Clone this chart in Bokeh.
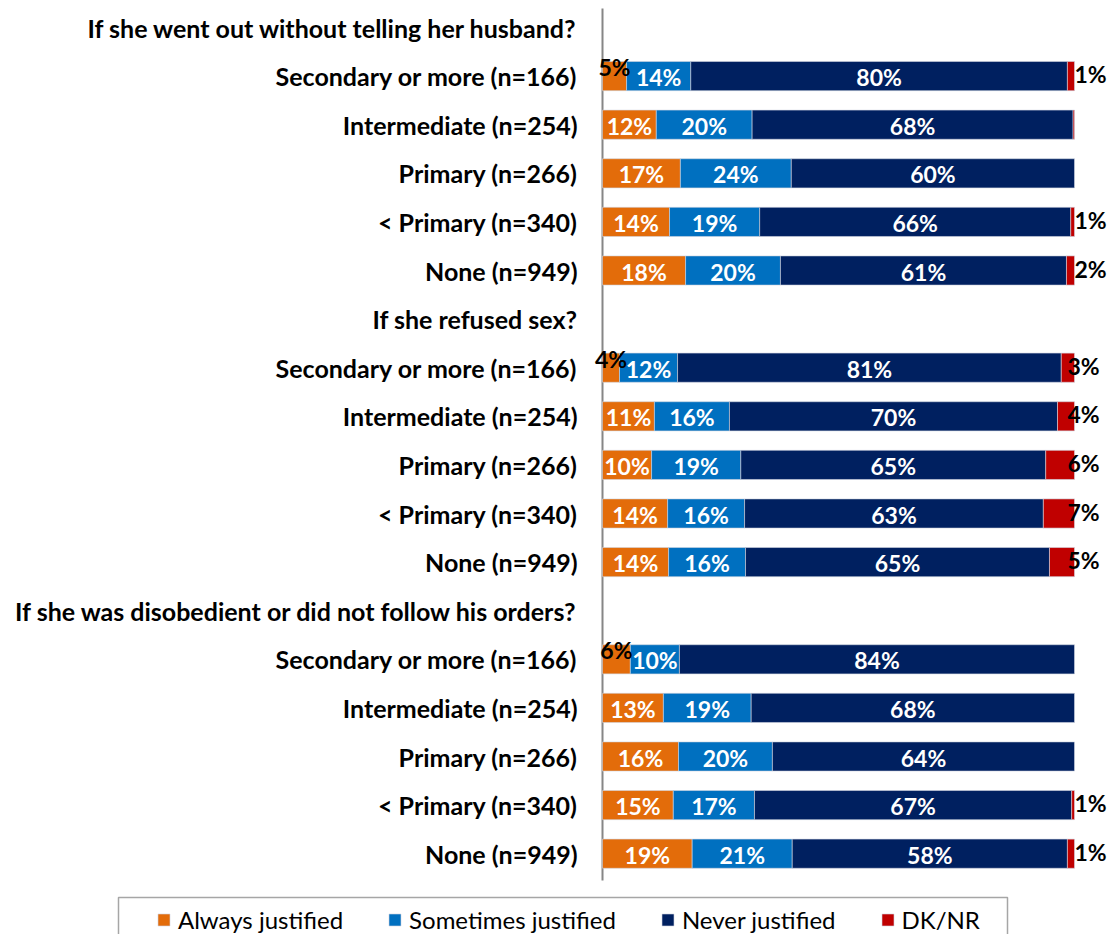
from bokeh.plotting import figure
from bokeh.models import ColumnDataSource, Range1d, Legend, LegendItem
from bokeh.core.properties import value
from bokeh.embed import file_html
from bokeh.resources import INLINE

questions = [
    "If she went out without telling her husband?",
    "If she refused sex?",
    "If she was disobedient or did not follow his orders?",
]
levels = [
    "Secondary or more (n=166)",
    "Intermediate (n=254)",
    "Primary (n=266)",
    "< Primary (n=340)",
    "None (n=949)",
]
series_names = ["Always justified", "Sometimes justified", "Never justified", "DK/NR"]
colors = ["#E36C0A", "#0070C0", "#002060", "#C00000"]

# segment widths (percent)
always = [[5.1, 11.4, 16.5, 14.2, 17.6], [3.6, 11.0, 10.4, 13.8, 14.0], [5.9, 12.9, 16.1, 15.0, 19.0]]
sometimes = [[13.6, 20.3, 23.5, 19.1, 20.1], [12.3, 15.9, 18.9, 16.3, 16.3], [10.4, 18.6, 19.9, 17.2, 21.2]]
never = [[79.8, 68.0, 60.0, 65.9, 60.6], [81.3, 69.5, 64.6, 63.3, 64.4], [83.7, 68.5, 64.0, 67.2, 58.3]]
dknr = [[1.5, 0.3, 0.0, 0.8, 1.7], [2.8, 3.6, 6.1, 6.6, 5.3], [0.0, 0.0, 0.0, 0.6, 1.5]]

# printed data labels
always_lbl = [[5, 12, 17, 14, 18], [4, 11, 10, 14, 14], [6, 13, 16, 15, 19]]
sometimes_lbl = [[14, 20, 24, 19, 20], [12, 16, 19, 16, 16], [10, 19, 20, 17, 21]]
never_lbl = [[80, 68, 60, 66, 61], [81, 70, 65, 63, 65], [84, 68, 64, 67, 58]]
dknr_lbl = [[1, None, None, 1, 2], [3, 4, 6, 7, 5], [None, None, None, 1, 1]]

FONT = "Lato"
series_vals = [always, sometimes, never, dknr]
series_lbls = [always_lbl, sometimes_lbl, never_lbl, dknr_lbl]

# ---- layout constants (pixels) ----
W, H = 1108, 934
X0_PX, PX_PER_PCT = 602, 4.72        # where 0% sits and scale
ROW0_PX, ROW_PX = 27, 48.6           # first row centre and row pitch
LEG_BOX = dict(left=118, right=1007, top=897, bottom=H + 6)


def px_x(px):
    return (px - X0_PX) / PX_PER_PCT


def px_y(py):
    return (py - ROW0_PX) / ROW_PX


cats = dict(y=[], text=[])
bar_data = [dict(y=[], left=[], right=[]) for _ in range(4)]
lab = dict(x=[], y=[], text=[], color=[], align=[], xo=[], yo=[])

for g, q in enumerate(questions):
    hrow = g * 6
    cats["y"].append(hrow)
    cats["text"].append(q)
    for i, lv in enumerate(levels):
        row = hrow + 1 + i
        cats["y"].append(row)
        cats["text"].append(lv)
        cum = 0.0
        for s in range(4):
            v = series_vals[s][g][i]
            L = series_lbls[s][g][i]
            if v > 0:
                bar_data[s]["y"].append(row)
                bar_data[s]["left"].append(cum)
                bar_data[s]["right"].append(cum + v)
            if L is not None:
                lab["y"].append(row)
                lab["text"].append(f"{L}%")
                if s == 3:
                    lab["x"].append(cum + v)
                    lab["align"].append("left")
                    lab["xo"].append(0 if L <= 2 else -7)
                    lab["yo"].append(-2)
                    lab["color"].append("black")
                elif v < 7:
                    lab["x"].append(cum + v / 2)
                    lab["align"].append("center")
                    lab["xo"].append(0)
                    lab["yo"].append(-9)
                    lab["color"].append("black")
                else:
                    lab["x"].append(cum + v / 2)
                    lab["align"].append("center")
                    lab["xo"].append(0)
                    lab["yo"].append(1)
                    lab["color"].append("white")
            cum += v

x_range = Range1d(px_x(0), px_x(W))
y_range = Range1d(px_y(H), px_y(0))

p = figure(width=W, height=H, output_backend="svg", toolbar_location=None,
           x_range=x_range, y_range=y_range,
           x_axis_location=None, y_axis_location=None, min_border=0)
p.outline_line_color = None
p.grid.visible = False

# vertical category axis line
p.segment(x0=[0], y0=[px_y(8)], x1=[0], y1=[px_y(880)], line_color="#868686", line_width=2)

renderers = []
for s in range(4):
    r = p.hbar(y="y", left="left", right="right", height=0.6, source=ColumnDataSource(bar_data[s]),
               fill_color=colors[s], line_color="#D0D5E0", line_width=0.6)
    renderers.append(r)

# category labels (right aligned, left of axis)
p.text(x=0, y="y", text="text", source=ColumnDataSource(cats), text_color="black",
       text_align="right", text_baseline="middle", x_offset=-25, y_offset=0,
       text_font=value(FONT), text_font_style="bold", text_font_size="25px")

# data labels
p.text(x="x", y="y", text="text", source=ColumnDataSource(lab), text_color="color",
       text_align="align", text_baseline="middle", x_offset="xo", y_offset="yo",
       text_font=value(FONT), text_font_style="bold", text_font_size="23px")

# legend frame
p.quad(left=[px_x(LEG_BOX["left"])], right=[px_x(LEG_BOX["right"])],
       top=[px_y(LEG_BOX["top"])], bottom=[px_y(LEG_BOX["bottom"])],
       fill_color="white", line_color="#A6A6A6", line_width=1.5)

legend = Legend(items=[LegendItem(label=series_names[s], renderers=[renderers[s]]) for s in range(4)],
                orientation="horizontal", location=(156, 0),
                label_text_font=FONT, label_text_font_size="24px", label_text_color="black",
                glyph_width=15, glyph_height=15, label_standoff=7, spacing=44,
                label_height=15, padding=0, margin=0,
                border_line_color=None, background_fill_alpha=0)
p.add_layout(legend, "center")

open("out.html", "w").write(file_html(p, INLINE))
